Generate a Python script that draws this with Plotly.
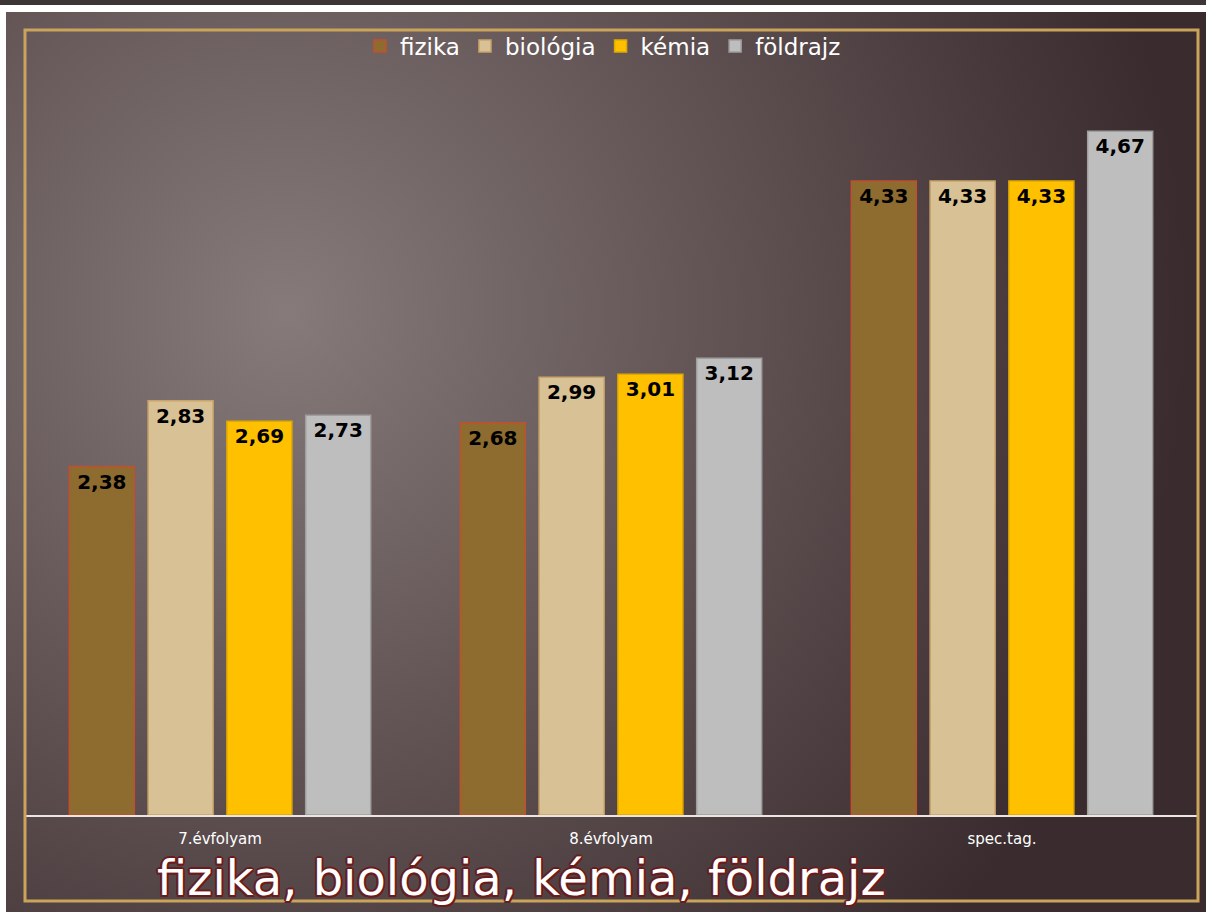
import base64
import plotly.graph_objects as go

categories = ["7.évfolyam", "8.évfolyam", "spec.tag."]
series_names = ["fizika", "biológia", "kémia", "földrajz"]
fizika = [2.38, 2.68, 4.33]
biologia = [2.83, 2.99, 4.33]
kemia = [2.69, 3.01, 4.33]
foldrajz = [2.73, 3.12, 4.67]
title_text = "fizika, biológia, kémia, földrajz"

series_values = [fizika, biologia, kemia, foldrajz]
fill_colors = ["#8E6B2F", "#D8C194", "#FFC000", "#BEBEBE"]
line_colors = ["#C0502E", "#C9A46A", "#E0A900", "#9E9E9E"]

W, H = 1206, 912
FONT = "DejaVu Sans"

svg = f'''<svg xmlns="http://www.w3.org/2000/svg" width="1200" height="900" viewBox="0 0 1200 900" preserveAspectRatio="none">
<defs><radialGradient id="g" gradientUnits="userSpaceOnUse" cx="280" cy="300" r="900">
<stop offset="0" stop-color="#867a7a"/>
<stop offset="0.45" stop-color="#645657"/>
<stop offset="1" stop-color="#3a2c2e"/>
</radialGradient></defs>
<rect x="0" y="0" width="1200" height="900" fill="url(#g)"/>
</svg>'''
bg_uri = "data:image/svg+xml;base64," + base64.b64encode(svg.encode()).decode()

fig = go.Figure()
for name, vals, fc, lc in zip(series_names, series_values, fill_colors, line_colors):
    fig.add_trace(go.Bar(
        x=categories, y=vals, name=name,
        marker=dict(color=fc, line=dict(color=lc, width=1.5)),
        texttemplate="%{y:.2f}", textposition="inside", insidetextanchor="end",
        textangle=0,
        textfont=dict(family=FONT, size=20, color="black", weight="bold"),
        hoverinfo="skip",
    ))

y_top = 785 / 146.4

fig.update_layout(
    width=W, height=H,
    margin=dict(l=0, r=0, t=0, b=0),
    paper_bgcolor="white",
    plot_bgcolor="rgba(0,0,0,0)",
    separators=",.",
    barmode="group",
    bargap=0.194,
    bargroupgap=0.175,
    showlegend=True,
    legend=dict(
        orientation="h", x=0.5, xanchor="center", y=1 - 46 / H, yanchor="middle",
        font=dict(family=FONT, size=23, color="white"),
        bgcolor="rgba(0,0,0,0)", itemwidth=30, tracegroupgap=0,
    ),
    xaxis=dict(
        domain=[24.5 / W, 1197.5 / W],
        showgrid=False, zeroline=False,
        showline=True, linecolor="#ECE6E0", linewidth=2,
        ticks="outside", ticklen=9, tickcolor="rgba(0,0,0,0)",
        tickfont=dict(family=FONT, size=15, color="white"),
    ),
    yaxis=dict(
        domain=[(H - 815) / H, (H - 30) / H],
        range=[0, y_top], visible=False,
    ),
    images=[dict(
        source=bg_uri, xref="paper", yref="paper",
        x=6 / W, y=1 - 12 / H, sizex=1200 / W, sizey=900 / H,
        xanchor="left", yanchor="top", sizing="stretch", layer="below",
    )],
    shapes=[
        dict(type="rect", xref="paper", yref="paper",
             x0=0, x1=1, y0=1 - 5 / H, y1=1,
             fillcolor="#3e3536", line=dict(width=0), layer="below"),
        dict(type="rect", xref="paper", yref="paper",
             x0=25 / W, x1=1198 / W, y0=(H - 901) / H, y1=(H - 30) / H,
             line=dict(color="#C9A45A", width=3), fillcolor="rgba(0,0,0,0)", layer="above"),
    ],
    annotations=[dict(
        text=title_text, xref="paper", yref="paper",
        x=155 / W, xanchor="left", y=(H - 878) / H, yanchor="middle",
        showarrow=False,
        font=dict(family=FONT, size=48, color="white",
                  shadow="-1.5px -1.5px 0 #6a1c1c, 1.5px -1.5px 0 #6a1c1c, -1.5px 1.5px 0 #6a1c1c, 1.5px 1.5px 0 #6a1c1c, 0 2px 0 #6a1c1c, 0 -2px 0 #6a1c1c, 2px 0 0 #6a1c1c, -2px 0 0 #6a1c1c"),
    )],
)

fig.write_html("out.html", config={"displayModeBar": False},
               post_script="document.body.style.margin='0';document.body.style.overflow='hidden';")
